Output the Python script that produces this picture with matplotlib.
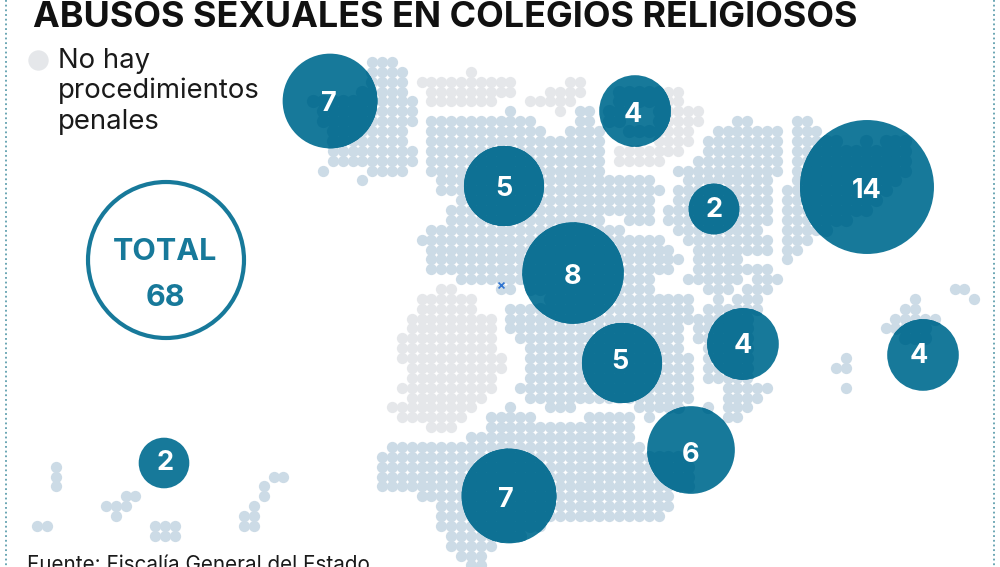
import numpy as np
import matplotlib
matplotlib.use('Agg')
import matplotlib.pyplot as plt
from matplotlib.patches import Circle

# dot map, runs of (row, first col, last col) on the grid
GALICIA = [(0,34,36),(1,34,37),(2,34,37),(3,33,37),(4,28,38),(5,29,38),(6,29,38),(7,30,37),
           (8,30,37),(9,30,38),(10,30,38),(11,29,29),(11,34,37),(12,33,33)]
CENTRO = [(5,48,48),(5,55,56),(6,40,50),(6,55,56),(7,40,51),(7,54,57),(8,40,57),(9,40,57),
          (10,40,57),(11,40,57),(12,41,62),(13,41,63),(14,43,62),(15,42,62),(16,42,57),(16,60,62),
          (17,40,59),(18,39,63),(19,40,64),(20,40,65),(21,40,64),(22,43,62),(22,66,66),(23,47,48),
          (23,50,62),(24,52,66),(25,48,66),(26,48,66),(27,48,65),(28,49,65),(28,67,67),(29,50,65),
          (30,50,66),(31,50,66),(32,50,66),(33,49,66),(34,50,66),(35,48,48),(35,52,54),(35,61,65),
          (35,68,68),(36,46,50),(36,56,60),(36,62,62),(37,46,60),(38,44,60)]
ANDALUCIA = [(39,36,61),(40,35,66),(41,35,66),(42,35,66),(43,35,66),(44,39,64),(45,41,64),
             (46,41,63),(47,41,51),(48,42,49),(49,42,46),(50,43,45),(51,44,45)]
ARAGON = [(6,71,72),(7,69,75),(8,68,75),(9,68,75),(10,67,75),(11,65,65),(11,66,75),(12,66,74),
          (13,65,74),(14,65,74),(15,64,74),(16,64,74),(17,65,73),(18,66,74),(19,67,74),(20,67,71),
          (21,67,71),(21,72,74),(22,67,71),(22,73,75),(23,68,70),(23,72,74),(24,69,69),(24,71,73),
          (25,68,73),(26,67,72),(27,67,72),(28,67,72),(29,68,72),(30,68,72),(31,68,72),(32,68,72),
          (33,70,74),(34,70,73),(35,70,72),(36,70,71)]
CATALUNA = [(6,77,78),(7,77,79),(8,77,81),(8,84,84),(8,86,88),(9,77,88),(10,77,88),(11,77,88),
            (12,77,87),(13,76,86),(14,76,85),(15,76,84),(16,76,82),(17,76,80),(18,76,78),(19,76,77),(20,76,76)]
BALEARES = [(30,82,82),(31,81,82),(33,82,82),(24,89,89),(25,88,89),(26,87,91),(27,86,90),(28,88,90),
            (23,93,94),(24,95,95)]
CANARIAS = [(47,0,1),(41,2,2),(42,2,2),(43,2,2),(45,7,9),(46,8,8),(44,9,10),(47,12,14),(48,12,14),
            (45,22,22),(46,21,22),(47,21,22),(43,23,23),(44,23,23),(42,24,25)]
# regions without proceedings
SIN_CANTABRICO = [(1,44,44),(2,39,48),(3,40,48),(4,40,46),(2,54,55),(3,52,55),(4,50,54),(5,53,53)]
SIN_NORTE = [(3,65,65),(4,65,65),(5,65,67),(6,64,67),(7,65,66),(8,63,66),(9,59,65),(10,59,63),
             (3,59,64),(4,59,64),(5,58,60),(5,63,64),(6,58,59),(6,63,64),(7,60,64)]
SIN_EXTREMADURA = [(23,41,42),(24,39,44),(25,39,44),(26,38,46),(27,38,46),(28,37,46),(29,37,46),
                   (30,37,47),(31,38,47),(32,38,46),(33,37,46),(34,38,45),(35,36,44),(36,37,43),(37,40,42)]

# bubbles: value, centre and label in figure pixels
VALUES = [7, 4, 5, 2, 14, 8, 5, 4, 4, 6, 7, 2]
BUB_X = [330, 635, 504, 714, 867, 573, 622, 743, 923, 691, 509, 164]
BUB_Y = [101, 111, 186, 209, 187, 273, 363, 344, 355, 450, 496, 463]
LABEL_X = [329, 633, 504, 714, 867, 573, 620, 743, 919, 691, 506, 165]
LABEL_Y = [104, 115, 189, 210, 191, 277, 362, 346, 356, 455, 500, 463]

TITLE = 'ABUSOS SEXUALES EN COLEGIOS RELIGIOSOS'
LEGEND = ['No hay', 'procedimientos', 'penales']
SOURCE = 'Fuente: Fiscalía General del Estado'
TOTAL = 68

BLUE_DOT = '#ccdbe6'
GRAY_DOT = '#e5e7ea'
TEAL = '#17799a'
TEAL_DARK = '#0e7194'
STEP = 9.87
DOT_SIZE = 66


def expand(runs):
    xs, ys = [], []
    for row, first, last in runs:
        for col in range(first, last + 1):
            xs.append(36.7 + STEP * col)
            ys.append(62 + STEP * row)
    return xs, ys


plt.rcParams['font.family'] = ['Inter', 'Open Sans', 'DejaVu Sans']

fig = plt.figure(figsize=(10, 5.67), dpi=100)
ax = fig.add_axes([0, 0, 1, 1])
ax.set_xlim(0, 1000)
ax.set_ylim(567, 0)
ax.axis('off')

# side rules
for x in [5.7, 994]:
    ax.plot([x, x], [0, 567], color='#5f9fae', lw=1.3, ls=(0, (1, 1.6)), zorder=1)

all_x, all_y = [], []
for runs in [GALICIA, CENTRO, ANDALUCIA, ARAGON, CATALUNA, BALEARES, CANARIAS]:
    xs, ys = expand(runs)
    ax.scatter(xs, ys, s=DOT_SIZE, color=BLUE_DOT, linewidths=0, zorder=2)
    all_x += xs
    all_y += ys
for runs in [SIN_CANTABRICO, SIN_NORTE, SIN_EXTREMADURA]:
    xs, ys = expand(runs)
    ax.scatter(xs, ys, s=DOT_SIZE, color=GRAY_DOT, linewidths=0, zorder=2)
    all_x += xs
    all_y += ys

# blue cross left on the map
ax.scatter([500.5], [285], marker='x', s=18, color='#2f74d0', linewidths=1.2, zorder=3)

# bubbles, area follows the value; dots show through a little darker
for x, y, v in zip(BUB_X, BUB_Y, VALUES):
    disc = Circle((x, y), 17.9 * np.sqrt(v), facecolor=TEAL, edgecolor='none', zorder=4)
    ax.add_patch(disc)
    under = ax.scatter(all_x, all_y, s=DOT_SIZE * 1.35, color=TEAL_DARK, linewidths=0, zorder=4.5)
    under.set_clip_path(disc)
for x, y, v in zip(LABEL_X, LABEL_Y, VALUES):
    ax.text(x, y, str(v), color='white', fontsize=19.5, fontweight='bold', ha='center', va='center', zorder=5)

# title and legend
ax.text(33, 27, TITLE, fontsize=25.85, fontweight='bold', color='#111111', ha='left', va='baseline', zorder=6)
ax.scatter([38], [60], s=215, color=GRAY_DOT, linewidths=0, zorder=2)
for line, y in zip(LEGEND, [68, 98, 129]):
    ax.text(58, y, line, fontsize=19.8, color='#1a1a1a', ha='left', va='baseline', zorder=6)

# total ring
ax.add_patch(Circle((166, 260), 78, facecolor='white', edgecolor=TEAL, lw=3, zorder=3))
ax.text(165, 260, 'TOTAL', fontsize=22, fontweight='bold', color=TEAL, ha='center', va='baseline', zorder=6)
ax.text(165, 306, str(TOTAL), fontsize=22, fontweight='bold', color=TEAL, ha='center', va='baseline', zorder=6)

ax.text(27, 571, SOURCE, fontsize=14.9, color='#1a1a1a', ha='left', va='baseline', zorder=6)

fig.savefig('out.png', dpi=100)
